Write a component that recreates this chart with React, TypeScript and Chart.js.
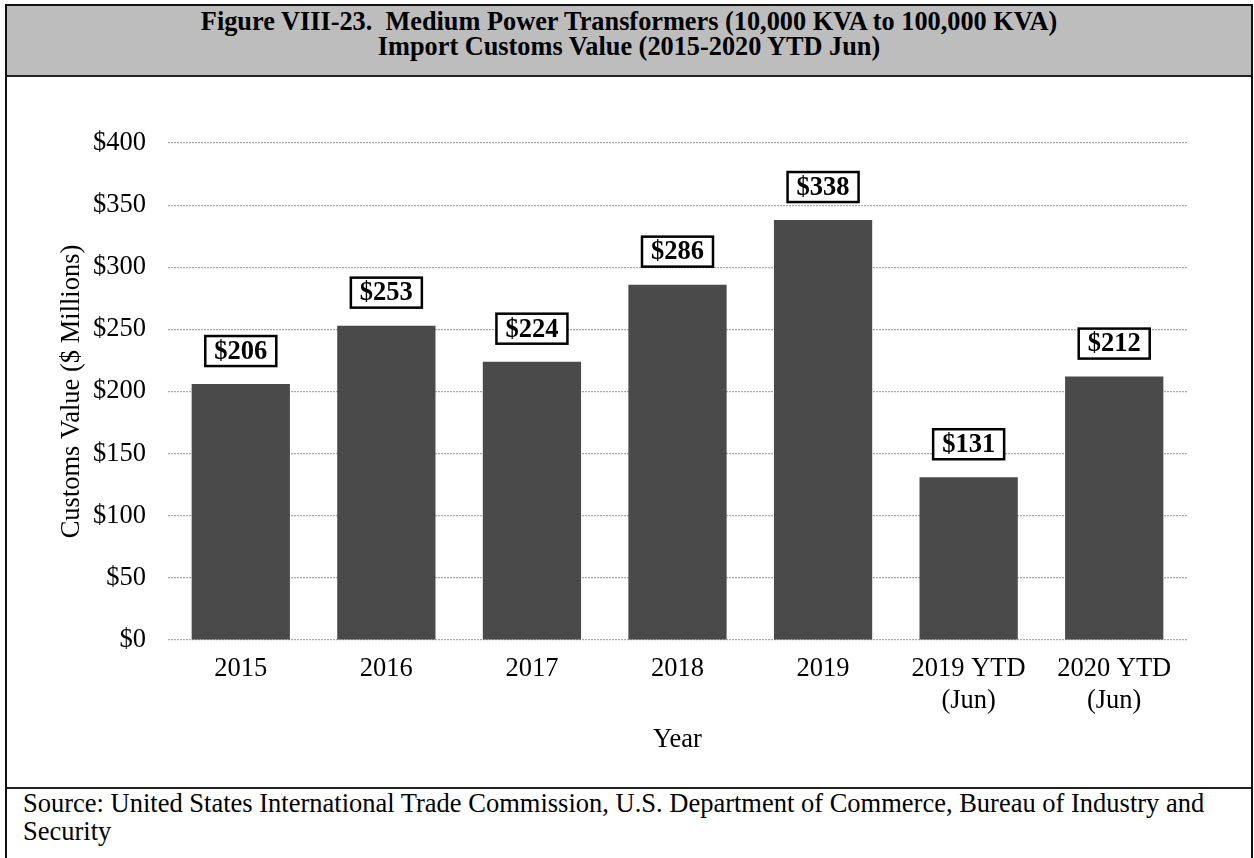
import React, { useEffect, useRef } from "react";
import { Chart, registerables } from "chart.js";

Chart.register(...registerables);

const titleLines = [
  "Figure VIII-23.  Medium Power Transformers (10,000 KVA to 100,000 KVA)",
  "Import Customs Value (2015-2020 YTD Jun)",
];
const categories: (string | string[])[] = [
  "2015",
  "2016",
  "2017",
  "2018",
  "2019",
  ["2019 YTD", "(Jun)"],
  ["2020 YTD", "(Jun)"],
];
const customsValues = [206, 253, 224, 286, 338, 131, 212];
const yTickValues = [0, 50, 100, 150, 200, 250, 300, 350, 400];
const yAxisTitle = "Customs Value ($ Millions)";
const xAxisTitle = "Year";
const sourceLines = [
  "Source: United States International Trade Commission, U.S. Department of Commerce, Bureau of Industry and",
  "Security",
];

const SERIF = '"Liberation Serif", "Times New Roman", serif';
const FS = 26.5;

const boxLabelsPlugin = {
  id: "boxLabels",
  afterDatasetsDraw(chart: any) {
    const ctx = chart.ctx as CanvasRenderingContext2D;
    const meta = chart.getDatasetMeta(0);
    ctx.save();
    ctx.font = `bold ${FS}px ${SERIF}`;
    ctx.textAlign = "center";
    ctx.textBaseline = "middle";
    meta.data.forEach((el: any, i: number) => {
      const { x, y } = el.getProps(["x", "y"], true);
      const text = "$" + customsValues[i];
      const w = ctx.measureText(text).width + 18;
      const h = 30;
      const bottom = y - 18;
      ctx.fillStyle = "#ffffff";
      ctx.fillRect(x - w / 2, bottom - h, w, h);
      ctx.lineWidth = 2.5;
      ctx.strokeStyle = "#000000";
      ctx.strokeRect(x - w / 2, bottom - h, w, h);
      ctx.fillStyle = "#000000";
      ctx.fillText(text, x, bottom - h / 2 + 1);
    });
    ctx.restore();
  },
};

export default function App() {
  const canvasRef = useRef<HTMLCanvasElement | null>(null);

  useEffect(() => {
    if (!canvasRef.current) return;
    const chart = new Chart(canvasRef.current, {
      type: "bar",
      data: {
        labels: categories as any,
        datasets: [
          {
            data: customsValues,
            backgroundColor: "#4a4a4a",
            borderWidth: 0,
            barPercentage: 0.675,
            categoryPercentage: 1,
          },
        ],
      },
      options: {
        responsive: false,
        animation: false,
        layout: { padding: { left: 0, right: 64, top: 64, bottom: 30 } },
        plugins: {
          legend: { display: false },
          title: { display: false },
          tooltip: { enabled: false },
        },
        scales: {
          x: {
            grid: { display: false, drawTicks: false },
            border: { display: false },
            ticks: {
              color: "#000",
              font: { family: SERIF, size: FS, lineHeight: 1.2 },
              padding: 13,
              maxRotation: 0,
              autoSkip: false,
            },
            title: {
              display: true,
              text: xAxisTitle,
              color: "#000",
              font: { family: SERIF, size: FS, lineHeight: 1.2 },
              padding: { top: 0, bottom: 0 },
            },
            afterFit(scale: any) {
              scale.height = 116;
            },
          },
          y: {
            min: 0,
            max: 400,
            afterBuildTicks(scale: any) {
              scale.ticks = yTickValues.map((v) => ({ value: v }));
            },
            grid: {
              color: "#a8a8a8",
              lineWidth: 1.2,
              drawTicks: false,
            },
            border: { display: false, dash: [2, 1] },
            ticks: {
              color: "#000",
              font: { family: SERIF, size: FS },
              padding: 22,
              callback: (v: any) => "$" + v,
            },
            title: {
              display: true,
              text: yAxisTitle,
              color: "#000",
              font: { family: SERIF, size: FS, lineHeight: 1.2 },
              padding: { top: 48, bottom: 0 },
            },
            afterFit(scale: any) {
              scale.width = 160;
            },
          },
        },
      },
      plugins: [boxLabelsPlugin],
    });
    return () => chart.destroy();
  }, []);

  return (
    <div
      style={{
        position: "absolute",
        left: 0,
        top: 0,
        width: 1254,
        height: 858,
        overflow: "hidden",
        background: "#ffffff",
        fontFamily: SERIF,
      }}
    >
      <div
        style={{
          position: "absolute",
          left: 5,
          top: 4,
          width: 1244,
          height: 900,
          border: "2px solid #111",
        }}
      />
      <div
        style={{
          position: "absolute",
          left: 7,
          top: 6,
          width: 1244,
          height: 71,
          background: "#bdbdbd",
          borderBottom: "2px solid #222",
          textAlign: "center",
          fontWeight: "bold",
          fontSize: 26.3,
          lineHeight: "25px",
          paddingTop: 3,
          boxSizing: "border-box",
          color: "#000",
        }}
      >
        {titleLines.map((t, i) => (
          <div key={i} style={{ whiteSpace: "pre" }}>
            {t}
          </div>
        ))}
      </div>
      <canvas
        ref={canvasRef}
        width={1243}
        height={707}
        style={{ position: "absolute", left: 8, top: 79, width: 1243, height: 707 }}
      />
      <div
        style={{
          position: "absolute",
          left: 7,
          top: 787,
          width: 1244,
          borderTop: "2px solid #222",
          paddingLeft: 16,
          boxSizing: "border-box",
          fontSize: FS,
          lineHeight: "28px",
          color: "#000",
          whiteSpace: "nowrap",
        }}
      >
        {sourceLines.map((t, i) => (
          <div key={i}>{t}</div>
        ))}
      </div>
    </div>
  );
}
